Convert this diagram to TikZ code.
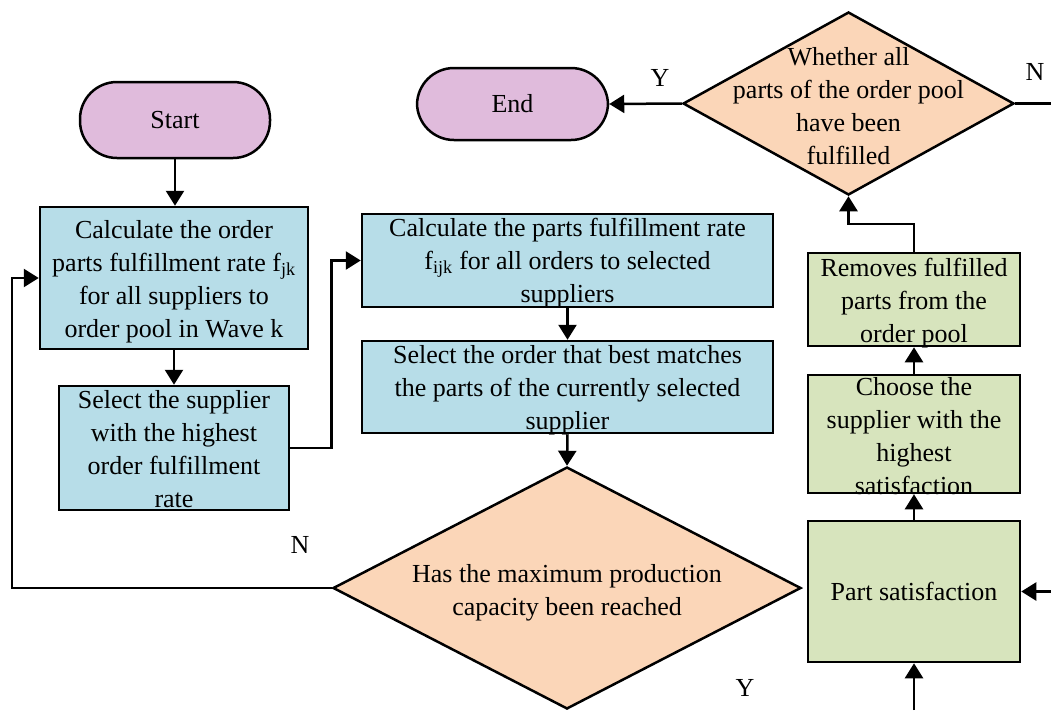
\documentclass[tikz,border=0pt]{standalone}
\usepackage{fontspec}
\setmainfont{Liberation Serif}
\usetikzlibrary{shapes.geometric,arrows.meta}
\definecolor{cblue}{RGB}{183,221,232}
\definecolor{cpink}{RGB}{224,187,220}
\definecolor{corange}{RGB}{251,214,184}
\definecolor{cgreen}{RGB}{215,228,189}
\tikzset{
  bfont/.style={font=\fontsize{26}{33}\selectfont},
  base/.style={draw=black, line width=2.5pt, inner sep=0pt, align=center, bfont},
  term/.style={base, fill=cpink, rounded corners=37pt},
  procbox/.style={base, fill=cblue},
  greenbox/.style={base, fill=cgreen},
  dia/.style={diamond, draw=black, line width=2.5pt, fill=corange, inner sep=0pt},
  txt/.style={align=center, inner sep=0pt, bfont},
  arr/.style={line width=2.5pt, -{Triangle[length=15pt,width=18pt]}},
  ln/.style={line width=2.5pt},
  lab/.style={inner sep=0pt, bfont}
}
\begin{document}
\begin{tikzpicture}[x=1pt,y=-1pt]
\useasboundingbox (0,0) rectangle (1051,710);
% terminals
\node[term, minimum width=190pt, minimum height=76pt] (start) at (175,120) {Start};
\node[term, minimum width=191pt, minimum height=72pt] (end) at (512.5,104) {End};
% blue boxes
\node[procbox, minimum width=268pt, minimum height=142pt] (A) at (174,278) {};
\node[txt] at (174,282) {Calculate the order\\parts fulfillment rate f\textsubscript{jk}\\for all suppliers to\\order pool in Wave k};
\node[procbox, minimum width=230pt, minimum height=124pt] (B) at (174,448) {};
\node[txt] at (174,449) {Select the supplier\\with the highest\\order fulfillment\\rate};
\node[procbox, minimum width=411pt, minimum height=93pt] (C) at (567.5,260.5) {};
\node[txt] at (567.5,263.5) {Calculate the parts fulfillment rate\\f\textsubscript{ijk} for all orders to selected\\suppliers};
\node[procbox, minimum width=411pt, minimum height=92pt] (D) at (567.5,387) {};
\node[txt] at (567.5,390) {Select the order that best matches\\the parts of the currently selected\\supplier};
% diamonds
\node[dia, minimum width=468pt, minimum height=242pt] (d2) at (567,588) {};
\node[txt] at (567,593) {Has the maximum production\\capacity been reached};
\node[dia, minimum width=331pt, minimum height=183pt] (d1) at (848.5,103.5) {};
\node[txt] at (848.5,106) {Whether all\\parts of the order pool\\have been\\fulfilled};
% green boxes
\node[greenbox, minimum width=212pt, minimum height=93pt] (G1) at (914,299.5) {};
\node[txt] at (914,303) {Removes fulfilled\\parts from the\\order pool};
\node[greenbox, minimum width=212pt, minimum height=118pt] (G2) at (914,434) {};
\node[txt] at (914,436) {Choose the\\supplier with the\\highest\\satisfaction};
\node[greenbox, minimum width=212pt, minimum height=141pt] (G3) at (914,591.5) {Part satisfaction};
% free ends
\coordinate (lp) at (12,588);
\coordinate (eR) at (1051,103.5);
\coordinate (inR) at (1051,591.5);
\coordinate (inB) at (914,710);
% connectors
\draw[arr] (start.south) -- (start.south |- A.north);
\draw[arr] (A.south) -- (B.north);
\draw[arr] (B.east) -- ++(41,0) |- (C.west);
\draw[arr] (C.south) -- (D.north);
\draw[arr] (D.south) -- (d2.north);
\draw[arr] (d2.west) -- (lp) |- (A.west);
\draw[arr] (G3.north) -- (G2.south);
\draw[arr] (G2.north) -- (G1.south);
\draw[arr] (G1.north) -- ++(0,-28) -| (d1.south);
\draw[arr] (d1.west) -- (end.east);
\draw[ln] (d1.east) -- (eR);
\draw[arr] (inR) -- (G3.east);
\draw[arr] (inB) -- (G3.south);
% labels
\node[lab] (lY1) at (660,78) {Y};
\node[lab] (lN1) at (1035,72) {N};
\node[lab] (lN2) at (300,545) {N};
\node[lab] (lY2) at (745,688) {Y};
\end{tikzpicture}
\end{document}
